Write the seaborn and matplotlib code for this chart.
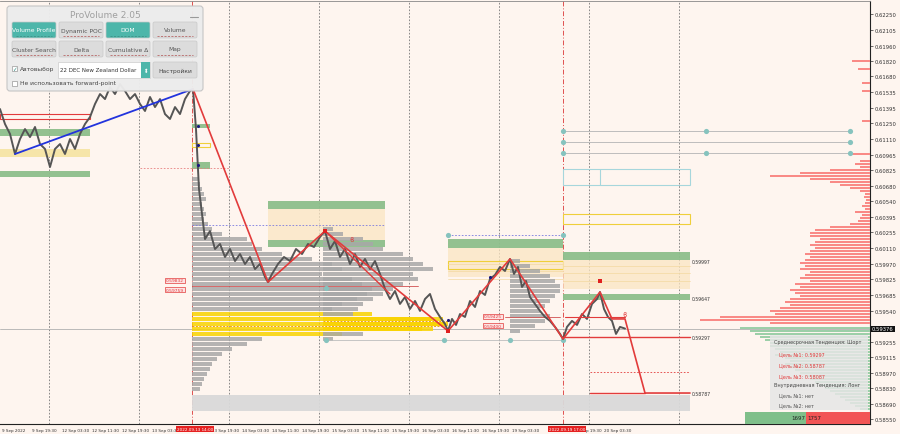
import numpy as np
import pandas as pd
import matplotlib
matplotlib.use("Agg")
import matplotlib.pyplot as plt
import seaborn as sns
from matplotlib.patches import Rectangle, FancyBboxPatch

# ---------------- data ----------------
bar_idx = [0, 5, 10, 15, 20, 25, 30, 35, 40, 45, 50, 55, 60, 65, 70, 75, 80, 85, 90, 95,
           100, 105, 110, 115, 120, 125, 130, 135, 140, 145, 150, 155, 160, 165, 170, 175,
           180, 185, 190, 193, 196, 199, 202, 205, 210, 215, 220, 225, 230, 235, 240, 245,
           250, 255, 260, 265, 268, 272, 278, 284, 290, 296, 302, 308, 314, 320, 325, 330,
           335, 340, 345, 350, 355, 360, 365, 370, 375, 380, 385, 390, 395, 400, 405, 410,
           415, 420, 425, 430, 435, 440, 445, 448, 452, 456, 460, 465, 470, 475, 480, 485,
           490, 495, 500, 505, 510, 514, 518, 522, 526, 530, 535, 540, 545, 550, 555, 560,
           563, 567, 572, 577, 582, 587, 592, 597, 600, 604, 608, 612, 616, 620, 625]
price = [0.61382, 0.61245, 0.61154, 0.60971, 0.61108, 0.61199, 0.61126, 0.61218, 0.61062,
         0.61017, 0.60852, 0.61017, 0.61062, 0.60971, 0.61108, 0.61017, 0.61154, 0.61245,
         0.61309, 0.61428, 0.61519, 0.61473, 0.61583, 0.61519, 0.61610, 0.61547, 0.61473,
         0.61519, 0.61428, 0.61364, 0.61492, 0.61400, 0.61473, 0.61336, 0.61291, 0.61400,
         0.61336, 0.61473, 0.61547, 0.61565, 0.61199, 0.60651, 0.60423, 0.60194, 0.60267,
         0.60103, 0.60149, 0.60030, 0.60103, 0.59993, 0.60057, 0.59966, 0.60030, 0.59920,
         0.59966, 0.59847, 0.59801, 0.59875, 0.59966, 0.60030, 0.59993, 0.60103, 0.60057,
         0.60149, 0.60121, 0.60213, 0.60267, 0.60103, 0.60176, 0.60030, 0.60103, 0.59966,
         0.60057, 0.59939, 0.60012, 0.59920, 0.59993, 0.59875, 0.59738, 0.59646, 0.59719,
         0.59601, 0.59664, 0.59555, 0.59628, 0.59537, 0.59646, 0.59692, 0.59555, 0.59482,
         0.59418, 0.59354, 0.59464, 0.59409, 0.59509, 0.59482, 0.59628, 0.59573, 0.59719,
         0.59683, 0.59829, 0.59866, 0.59939, 0.59902, 0.60012, 0.59875, 0.59939, 0.59756,
         0.59811, 0.59664, 0.59601, 0.59537, 0.59482, 0.59446, 0.59391, 0.59327, 0.59281,
         0.59391, 0.59446, 0.59409, 0.59509, 0.59464, 0.59601, 0.59646, 0.59710, 0.59555,
         0.59482, 0.59446, 0.59327, 0.59391, 0.59376]
current_price = 0.59376

zigzag_x = [193, 268, 325, 448, 510, 563, 600, 612, 625, 645, 690]
zigzag_y = [0.61565, 0.59801, 0.60267, 0.59354, 0.60012, 0.59281, 0.59710, 0.59464,
            0.59464, 0.58787, 0.58787]
trend_x = [15, 193]
trend_y = [0.60971, 0.61565]

# volume profiles (volume per level, top level price, level step)
prof1_vol = [6, 8, 10, 12, 14, 10, 12, 14, 12, 16, 20, 30, 55, 60, 70, 90, 120, 140, 150, 130,
             160, 170, 180, 175, 165, 150, 140, 180, 240, 252, 230, 150, 70, 55, 40, 30, 25,
             20, 18, 15, 12, 10, 8]
prof2_vol = [10, 20, 40, 50, 60, 80, 90, 100, 110, 90, 95, 80, 70, 60, 50, 40, 35, 30, 120,
             125, 110, 40, 10]
prof3_vol = [10, 20, 30, 40, 45, 50, 50, 45, 40, 35, 30, 40, 35, 25, 10]

# DOM (order book) volumes
dom_ask = [15, 10, 40, 70, 100, 60, 40, 30, 20, 10, 5, 6, 4, 5, 8, 5, 15, 8, 10, 12, 20, 40,
           55, 60, 60, 50, 55, 60, 55, 60, 65, 60, 65, 70, 65, 70, 60, 65, 70, 60, 75, 70,
           80, 75, 70, 80, 85, 80, 90, 100, 95, 150, 170, 100]
dom_bid = [130, 120, 115, 110, 105, 100, 100, 95, 90, 95, 85, 80, 85, 80, 75, 70, 65, 60, 55,
           50, 45, 40, 35, 30, 25, 20, 15, 10]
far_ask_price = [0.61820, 0.61747, 0.61620, 0.61547, 0.61272, 0.60971, 0.60907]
far_ask_vol = [18, 12, 8, 8, 8, 20, 10]

# zones
zone_x0 = [0, 0, 0, 0, 192, 192, 192, 268, 268, 268, 448, 448, 448, 563, 563, 563, 563, 563, 192]
zone_x1 = [90, 90, 90, 90, 210, 210, 210, 385, 385, 385, 563, 563, 563, 690, 690, 690, 690, 690, 690]
zone_lo = [0.61291, 0.61135, 0.60944, 0.60761, 0.61208, 0.61035, 0.60834, 0.60468, 0.60185,
           0.60121, 0.60112, 0.59847, 0.59920, 0.60003, 0.59738, 0.59637, 0.60331, 0.60688,
           0.58623]
zone_hi = [0.61336, 0.61199, 0.61017, 0.60816, 0.61245, 0.61071, 0.60898, 0.60542, 0.60468,
           0.60185, 0.60194, 0.60112, 0.59993, 0.60076, 0.60003, 0.59692, 0.60423, 0.60834,
           0.58769]
zone_kind = ["ored", "green", "lyellow", "green", "green", "oyellow", "green", "green", "beige",
             "green", "green", "beige", "oyellow", "green", "beige", "green", "oyellow", "oblue",
             "grey"]

targets = [0.59297, 0.58787, 0.58087]
yticks = [0.62250, 0.62105, 0.61960, 0.61820, 0.61680, 0.61535, 0.61395, 0.61250, 0.61110,
          0.60965, 0.60825, 0.60680, 0.60540, 0.60395, 0.60255, 0.60110, 0.59970, 0.59825,
          0.59685, 0.59540, 0.59255, 0.59115, 0.58970, 0.58830, 0.58690, 0.58550]
xtick_pos = [2, 32, 62, 92, 122, 152, 212, 242, 272, 302, 332, 362, 392, 422, 452, 482, 512,
             586, 604]
xtick_lab = ["9 Sep 2022", "9 Sep 19:30", "12 Sep 03:30", "12 Sep 11:30", "12 Sep 19:30",
             "13 Sep 03:30", "13 Sep 19:30", "14 Sep 03:30", "14 Sep 11:30", "14 Sep 19:30",
             "15 Sep 03:30", "15 Sep 11:30", "15 Sep 19:30", "16 Sep 03:30", "16 Sep 11:30",
             "16 Sep 19:30", "19 Sep 03:30", "p 19:30", "20 Sep 03:30"]
day_sep = [49, 139, 229, 319, 409, 499, 589, 679]
session_x = [192, 563]
session_lab = ["2022.09.13 14:00", "2022.09.19 17:00"]
buy_vol, sell_vol = 1697, 1757

# ---------------- style ----------------
sns.set_theme(style="white")
plt.rcParams['font.family'] = ['DejaVu Sans']
BG = "#FEF5EF"
RED = "#E23B3B"
GREEN = "#8DBF8B"

fig = plt.figure(figsize=(9, 4.35), dpi=100)
fig.patch.set_facecolor(BG)
ax = fig.add_axes([0, 10/435, 870/900, 423/435])
ax.set_facecolor(BG)
ax.set_xlim(0, 870)
ax.set_ylim(0.58504, 0.62369)

# day separators, session lines
for x in day_sep:
    ax.axvline(x, color="#777777", lw=0.6, ls=(0, (2, 2)), zorder=1)
for x in session_x:
    ax.axvline(x, color="#E05050", lw=0.7, ls=(0, (5, 2, 1, 2)), zorder=1)

# zones
styles = {
    "green": dict(fc=GREEN, ec="none", alpha=0.95),
    "beige": dict(fc="#FBE6C2", ec="none", alpha=0.75),
    "lyellow": dict(fc="#F6E4A2", ec="none", alpha=0.9),
    "grey": dict(fc="#D9D9D9", ec="none", alpha=0.95),
    "ored": dict(fc="none", ec=RED, lw=0.8),
    "oyellow": dict(fc="none", ec="#EFCF3A", lw=0.8),
    "oblue": dict(fc="none", ec="#A6D6DC", lw=0.8),
}
for x0, x1, lo, hi, k in zip(zone_x0, zone_x1, zone_lo, zone_hi, zone_kind):
    ax.add_patch(Rectangle((x0, lo), x1 - x0, hi - lo, zorder=2, **styles[k]))
ax.plot([600, 600], [0.60688, 0.60834], color="#A6D6DC", lw=0.8, zorder=2)
for yy in [0.59966, 0.59900, 0.59830]:
    ax.plot([448, 563], [yy, yy], color="#F3D9A0", lw=0.5, zorder=2)
    ax.plot([563, 690], [yy - 0.00015, yy - 0.00015], color="#F3D9A0", lw=0.5, zorder=2)

# volume profiles
def draw_profile(vols, start_x, top_price, step, yellow_idx):
    levels = top_price - step * np.arange(len(vols))
    cols = ["#F9D300" if i in yellow_idx else "#A8A8A8" for i in range(len(vols))]
    ax.barh(levels, vols, left=start_x, height=step * 0.9, color=cols, alpha=0.85,
            edgecolor="none", zorder=3)

draw_profile(prof1_vol, 192, 0.60743, 0.000457, {27, 28, 29, 30, 31})
draw_profile(prof2_vol, 323, 0.60286, 0.000457, {18, 19, 20})
draw_profile(prof3_vol, 510, 0.59993, 0.000457, set())
ax.plot([192, 445], [0.59400, 0.59400], color="#E8A020", lw=0.7, ls=(0, (2, 1.5)), zorder=4)
ax.plot([323, 450], [0.59446, 0.59446], color="#E8A020", lw=0.7, ls=(0, (2, 1.5)), zorder=4)

# DOM
ask_levels = 0.60880 - 0.000274 * np.arange(len(dom_ask))
bid_levels = 0.59381 - 0.000274 * np.arange(len(dom_bid))
ax.barh(ask_levels, dom_ask, left=870 - np.array(dom_ask), height=0.00024,
        color="#F98A86", edgecolor="none", zorder=3)
ax.barh(far_ask_price, far_ask_vol, left=870 - np.array(far_ask_vol), height=0.00012,
        color="#F98A86", edgecolor="none", zorder=3)
ax.barh(bid_levels, dom_bid, left=870 - np.array(dom_bid), height=0.00024,
        color="#9CCFA8", edgecolor="none", zorder=3)

# level lines with dots
for yy, xs in zip([0.61181, 0.61081, 0.60980], [[563, 706, 850], [563, 850], [563, 706, 850]]):
    ax.plot([563, 850], [yy, yy], color="#BDBDBD", lw=0.7, zorder=4)
    ax.scatter(xs, [yy] * len(xs), s=14, color="#86C3BE", zorder=5, linewidths=0)
ax.plot([448, 563], [0.60231, 0.60231], color="#7A7AE0", lw=0.6, ls=(0, (2, 2)), zorder=4)
ax.scatter([448, 563], [0.60231, 0.60231], s=14, color="#86C3BE", zorder=5, linewidths=0)
ax.plot([323, 563], [0.59272, 0.59272], color="#BDBDBD", lw=0.6, zorder=4)
ax.scatter([326, 444, 510, 563], [0.59272] * 4, s=14, color="#86C3BE", zorder=5, linewidths=0)
ax.scatter([326], [0.59747], s=14, color="#86C3BE", zorder=5, linewidths=0)
ax.plot([192, 385], [0.60322, 0.60322], color="#7A7AE0", lw=0.6, ls=(0, (2, 2)), zorder=4)
ax.plot([140, 230], [0.60843, 0.60843], color="#E88080", lw=0.6, ls=(0, (2, 2)), zorder=4)

# current price line
ax.axhline(current_price, color="#B0B0B0", lw=0.6, zorder=2)

# price
sns.lineplot(x=bar_idx, y=price, ax=ax, color="#555555", lw=1.4, zorder=6, sort=False)
# trend lines
sns.lineplot(x=trend_x, y=trend_y, ax=ax, color="#2233DD", lw=1.3, zorder=7, sort=False)
sns.lineplot(x=zigzag_x, y=zigzag_y, ax=ax, color=RED, lw=1.2, zorder=7, sort=False)
sns.lineplot(x=[325, 390], y=[0.60267, 0.59692], ax=ax, color=RED, lw=1.0, zorder=7)
ax.plot([192, 418], [0.59765, 0.59765], color="#D05050", lw=0.6, zorder=4)
ax.plot([505, 560], [0.59482, 0.59482], color="#D05050", lw=0.6, zorder=4)
ax.plot([563, 690], [targets[0], targets[0]], color=RED, lw=1.0, zorder=7)
ax.plot([590, 645], [targets[1], targets[1]], color=RED, lw=1.0, zorder=7)
ax.plot([590, 690], [0.58983, 0.58983], color=RED, lw=0.6, ls=(0, (2, 2)), zorder=7)
ax.plot([565, 625], [0.59482, 0.59482], color=RED, lw=0.8, zorder=7)
ax.scatter([325, 448, 600], [0.60267, 0.59354, 0.59810], s=10, color="#E02020", zorder=8,
           marker="s", linewidths=0)
ax.scatter([198, 198, 198, 448, 490], [0.61225, 0.61053, 0.60866, 0.59450, 0.59850], s=5,
           color="#1A1A80", zorder=8, linewidths=0)
ax.text(352, 0.60194, "ϐ", color=RED, fontsize=5, ha="center", va="center", zorder=8)
ax.text(625, 0.59509, "ϐ", color=RED, fontsize=5, ha="center", va="center", zorder=8)

# small level labels
lab_kw = dict(fontsize=3.3, va="center", zorder=9)
ax.text(692, targets[0], "0.59297", color="#333333", **lab_kw)
ax.text(692, targets[1], "0.58787", color="#333333", **lab_kw)
ax.text(692, 0.59647, "0.59647", color="#333333", **lab_kw)
ax.text(692, 0.59993, "0.59997", color="#333333", **lab_kw)
for yy, t in [(0.59817, "0.59832"), (0.59732, "0.59759")]:
    ax.text(166, yy, t, color=RED, fontsize=3.2, va="center", zorder=9,
            bbox=dict(boxstyle="square,pad=0.12", fc="#FDE3E3", ec=RED, lw=0.5))
for yy, t in [(0.59488, "0.59425"), (0.59403, "0.59400")]:
    ax.text(484, yy, t, color=RED, fontsize=3.2, va="center", zorder=9,
            bbox=dict(boxstyle="square,pad=0.12", fc="#FDE3E3", ec=RED, lw=0.5))

# axes
ax.yaxis.tick_right()
ax.set_yticks(yticks)
ax.set_yticklabels([f"{v:.5f}" for v in yticks], fontsize=3.8, color="#333333")
ax.set_xticks(xtick_pos)
ax.set_xticklabels(xtick_lab, fontsize=3.0, color="#333333", ha="left")
ax.tick_params(axis="both", length=2, width=0.5, pad=1, colors="#333333")
ax.spines["left"].set_visible(False)
for s in ["right", "bottom"]:
    ax.spines[s].set_color("#222222")
    ax.spines[s].set_linewidth(0.8)
ax.spines["top"].set_color("#888888")
ax.spines["top"].set_linewidth(0.6)
ax.set_xlabel("")
ax.set_ylabel("")

# ---------------- overlay (pixel coords) ----------------
ov = fig.add_axes([0, 0, 1, 1], zorder=10)
ov.set_xlim(0, 900)
ov.set_ylim(435, 0)
ov.axis("off")
ov.patch.set_alpha(0)

# session labels on x axis
for xpix, t in zip([177, 549], session_lab):
    ov.text(xpix, 430, t, color="white", fontsize=3.0, va="center", ha="left",
            bbox=dict(boxstyle="square,pad=0.25", fc="#E52020", ec="none"))
# current price label
ov.text(872, 330, f"{current_price:.5f}", color="white", fontsize=3.8, va="center", ha="left",
        bbox=dict(boxstyle="square,pad=0.15", fc="#111111", ec="none"))

# info box
ov.add_patch(Rectangle((770, 336), 98, 75, fc="#E6E6E6", ec="none", alpha=0.85, zorder=1))
info = [(343, 774, "Среднесрочная Тенденция: Шорт", "#444444"),
        (355, 779, "Цель №1: 0.59297", RED),
        (366, 779, "Цель №2: 0.58787", RED),
        (377, 779, "Цель №3: 0.58087", RED),
        (386, 774, "Внутридневная Тенденция: Лонг", "#444444"),
        (396, 779, "Цель №1: нет", "#555555"),
        (406, 779, "Цель №2: нет", "#555555")]
for yy, xx, t, c in info:
    ov.text(xx, yy, t, color=c, fontsize=3.5, va="center", ha="left", zorder=2)

# buy/sell volume bar
tot = buy_vol + sell_vol
w = 125
ov.add_patch(Rectangle((745, 413), w * buy_vol / tot, 12, fc="#7FBF8A", ec="none"))
ov.add_patch(Rectangle((745 + w * buy_vol / tot, 413), w * sell_vol / tot, 12, fc="#F25555",
                       ec="none"))
ov.text(745 + w * buy_vol / tot - 1, 419, str(buy_vol), fontsize=4.0, color="#222222",
        ha="right", va="center")
ov.text(745 + w * buy_vol / tot + 1, 419, str(sell_vol), fontsize=4.0, color="#222222",
        ha="left", va="center")

# control panel
ov.add_patch(FancyBboxPatch((7, 7), 196, 85, boxstyle="round,pad=0,rounding_size=3",
                            fc="#ECECEC", ec="#C4C4C4", lw=0.8, alpha=0.97, zorder=3))
ov.text(105, 15, "ProVolume 2.05", fontsize=6.5, color="#A0A0A0", ha="center", va="center",
        zorder=4)
ov.plot([190, 198], [18, 18], color="#999999", lw=0.8, zorder=4)
btn_labels = [["Volume Profile", "Dynamic POC", "DOM", "Volume"],
              ["Cluster Search", "Delta", "Cumulative Δ", "Map"]]
btn_active = [[True, False, True, False], [False, False, False, False]]
btn_x = [12, 59, 106, 153]
btn_y = [23, 42]
for r in range(2):
    for c in range(4):
        act = btn_active[r][c]
        fc = "#4DB6AA" if act else "#DCDCDC"
        ov.add_patch(FancyBboxPatch((btn_x[c], btn_y[r]), 44, 16,
                                    boxstyle="round,pad=0,rounding_size=1.5",
                                    fc=fc, ec="#C8C8C8", lw=0.5, zorder=4))
        ov.text(btn_x[c] + 22, btn_y[r] + 8, btn_labels[r][c], fontsize=4.3,
                color="white" if act else "#555555", ha="center", va="center", zorder=5)
        ov.plot([btn_x[c] + 4, btn_x[c] + 40], [btn_y[r] + 13.5, btn_y[r] + 13.5],
                color="#B05050" if not act else "#3A8A80", lw=0.5, ls=(0, (3, 2)), zorder=5)
# checkbox + dropdown + settings
ov.add_patch(Rectangle((12, 67), 5, 5, fc="white", ec="#999999", lw=0.5, zorder=4))
ov.text(12.5, 69.5, "✓", fontsize=4.0, color="#2A8A80", va="center", zorder=5)
ov.text(20, 70, "Автовыбор", fontsize=4.3, color="#444444", va="center", zorder=5)
ov.add_patch(Rectangle((58, 63), 92, 16, fc="white", ec="#CCCCCC", lw=0.5, zorder=4))
ov.add_patch(Rectangle((141, 63), 9, 16, fc="#4DB6AA", ec="none", zorder=5))
ov.text(145.5, 71, "⬍", fontsize=4.0, color="white", ha="center", va="center", zorder=6)
ov.text(60, 71, "22 DEC New Zealand Dollar", fontsize=4.0, color="#333333", va="center",
        zorder=5)
ov.add_patch(FancyBboxPatch((153, 63), 44, 16, boxstyle="round,pad=0,rounding_size=1.5",
                            fc="#DCDCDC", ec="#C8C8C8", lw=0.5, zorder=4))
ov.text(175, 71, "Настройки", fontsize=4.3, color="#444444", ha="center", va="center",
        zorder=5)
ov.add_patch(Rectangle((12, 81.5), 5, 5, fc="white", ec="#999999", lw=0.5, zorder=4))
ov.text(20, 84, "Не использовать forward-point", fontsize=4.3, color="#444444",
        va="center", zorder=5)

fig.savefig("out.png", dpi=100, facecolor=BG)
